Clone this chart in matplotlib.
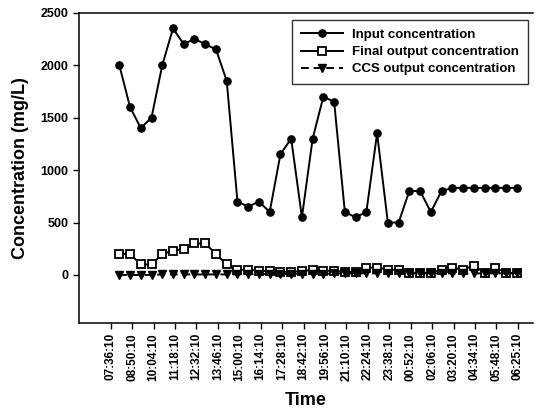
import matplotlib
matplotlib.use("Agg")
import matplotlib.pyplot as plt
import numpy as np

plt.rcParams['font.family'] = ['Liberation Sans', 'DejaVu Sans']
plt.rcParams['font.weight'] = 'bold'

# tick labels on the time axis
time_labels = ["07:36:10", "08:50:10", "10:04:10", "11:18:10", "12:32:10",
               "13:46:10", "15:00:10", "16:14:10", "17:28:10", "18:42:10",
               "19:56:10", "21:10:10", "22:24:10", "23:38:10", "00:52:10",
               "02:06:10", "03:20:10", "04:34:10", "05:48:10", "06:25:10"]

# concentrations (mg/L), one value per sample
input_conc = [2000, 1600, 1400, 1500, 2000, 2350, 2200, 2250, 2200, 2150,
              1850, 700, 650, 700, 600, 1150, 1300, 550, 1300, 1700,
              1650, 600, 550, 600, 1350, 500, 500, 800, 800, 600,
              800, 830, 830, 830, 830, 830, 830, 830]
final_conc = [200, 200, 100, 100, 200, 230, 250, 300, 300, 200,
              100, 50, 50, 40, 35, 30, 30, 35, 50, 40,
              40, 30, 30, 70, 70, 50, 50, 20, 20, 20,
              50, 70, 50, 90, 20, 70, 20, 20]
ccs_conc = [0, 0, 0, 0, 5, 5, 5, 5, 5, 5,
            5, 5, 5, 10, 10, 10, 10, 10, 10, 10,
            15, 15, 15, 15, 15, 15, 15, 15, 15, 15,
            15, 15, 15, 15, 15, 15, 15, 15]

x = np.arange(len(input_conc))

fig = plt.figure(figsize=(5.35, 4.16), dpi=100)
ax = fig.add_axes([0.1477, 0.2243, 0.8483, 0.7452])

ax.plot(x, input_conc, color="black", lw=1.4, marker="o", ms=5.2,
        label="Input concentration")
ax.plot(x, final_conc, color="black", lw=1.4, marker="s", ms=5.2,
        mfc="white", mew=1.3, label="Final output concentration")
ax.plot(x, ccs_conc, color="black", lw=1.4, ls=(0, (4, 2.5)), marker="v", ms=5.5,
        label="CCS output concentration")

ax.set_xlim(-3.75, 38.5)
ax.set_ylim(-455, 2500)
ax.set_yticks(np.arange(0, 2501, 500))
ax.set_xticks(np.linspace(-0.8, 37.1, len(time_labels)))
ax.set_xticklabels(time_labels, rotation=90, fontsize=8.5, fontweight="bold")
ax.tick_params(axis="y", labelsize=9, direction="out", length=4, width=1)
ax.tick_params(axis="x", direction="out", length=4, width=1)
for lab in ax.get_yticklabels():
    lab.set_fontweight("bold")

ax.spines["right"].set_visible(False)
for s in ["left", "bottom", "top"]:
    ax.spines[s].set_linewidth(1.1)

ax.set_xlabel("Time", fontsize=13, fontweight="bold", labelpad=8)
ax.set_ylabel("Concentration (mg/L)", fontsize=13, fontweight="bold", labelpad=8)

leg = ax.legend(loc="upper right", bbox_to_anchor=(0.989, 0.976), fontsize=9.5,
                frameon=True, fancybox=False, edgecolor="black",
                borderaxespad=0, handlelength=3.2, handletextpad=0.7,
                borderpad=0.65, labelspacing=0.38)
leg.get_frame().set_linewidth(1.0)

fig.savefig("out.png", dpi=100)
